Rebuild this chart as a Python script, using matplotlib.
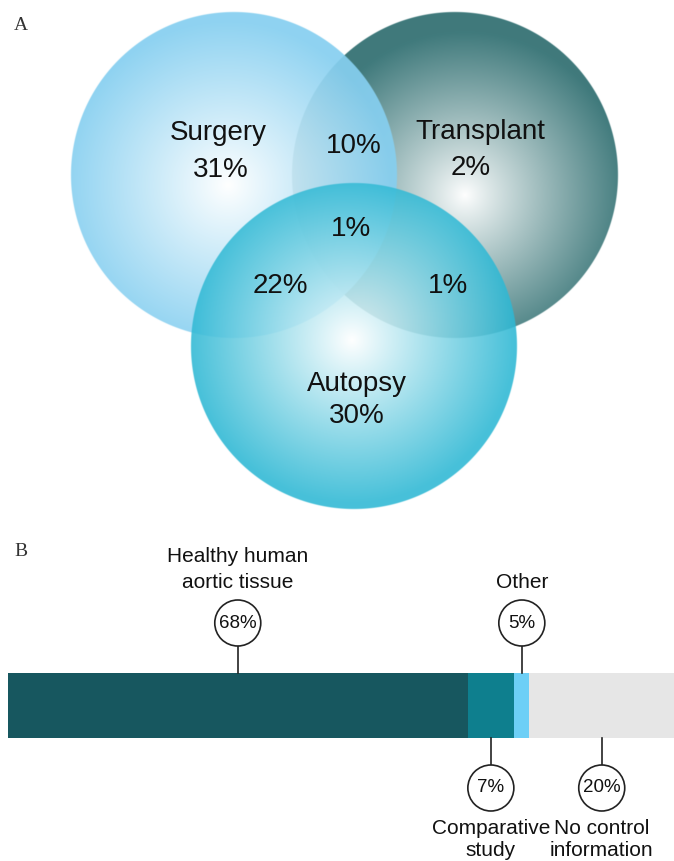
import numpy as np
import matplotlib
matplotlib.use("Agg")
import matplotlib.pyplot as plt
from matplotlib.patches import Circle

plt.rcParams['font.family'] = ['Liberation Sans', 'DejaVu Sans']

# ---------------- data ----------------
venn_sets = ["Surgery", "Transplant", "Autopsy"]
venn_only_pct = [31, 2, 30]                  # exclusive parts
venn_pair_labels = ["Surgery&Transplant", "Surgery&Autopsy", "Transplant&Autopsy"]
venn_pair_pct = [10, 22, 1]
venn_all_pct = 1

control_labels = ["Healthy human\naortic tissue", "Comparative\nstudy", "Other", "No control\ninformation"]
control_pct = [68, 7, 5, 20]                 # printed values
control_bar_share = [69.0, 7.0, 2.3, 21.7]   # segment widths as drawn in the picture
control_colors = ["#17575f", "#0e7f8e", "#6dcff6", "#e6e6e6"]
control_side = ["above", "below", "above", "below"]

# ---------------- figure ----------------
W, H = 674, 861
fig = plt.figure(figsize=(W / 100, H / 100), dpi=100)
ax = fig.add_axes([0, 0, 1, 1])
ax.set_xlim(0, W)
ax.set_ylim(H, 0)
ax.axis("off")

# ---- Panel A: Venn with radial gradients ----
circ_centers = {"Surgery": (234, 175), "Transplant": (455, 175), "Autopsy": (354, 346)}
circ_radius = 163
highlights = {"Surgery": (228, 185), "Transplant": (465, 195), "Autopsy": (352, 340)}
edge_cols = {"Surgery": (134, 207, 240), "Transplant": (64, 122, 124), "Autopsy": (46, 184, 212)}
gammas = {"Surgery": 0.95, "Transplant": 0.9, "Autopsy": 0.95}
alphas = {"Transplant": 1.0, "Surgery": 0.92, "Autopsy": 0.88}
order = ["Transplant", "Surgery", "Autopsy"]

S = 2  # supersampling
ph = 520
xs = (np.arange(W * S) + 0.5) / S
ys = (np.arange(ph * S) + 0.5) / S
X, Y = np.meshgrid(xs, ys)
comp = np.ones((ph * S, W * S, 3))
for name in order:
    cx, cy = circ_centers[name]
    hx, hy = highlights[name]
    d = np.hypot(X - cx, Y - cy)
    mask = np.clip(circ_radius - d + 0.5, 0, 1)
    dh = np.hypot(X - hx, Y - hy)
    t = np.clip(dh / circ_radius, 0, 1) ** gammas[name]
    edge = np.array(edge_cols[name]) / 255.0
    col = (1 - t)[..., None] * np.ones(3) + t[..., None] * edge
    a = (mask * alphas[name])[..., None]
    comp = comp * (1 - a) + col * a
ax.imshow(comp, extent=(0, W, ph, 0), origin="upper", interpolation="bilinear", zorder=1)

vfs = 20
tc = "#111111"
def vt(x, y, s):
    ax.text(x, y, s, ha="center", va="center", fontsize=vfs, color=tc, zorder=3)

vt(218, 133, venn_sets[0]); vt(221, 170, f"{venn_only_pct[0]}%")
vt(480, 132, venn_sets[1]); vt(471, 168, f"{venn_only_pct[1]}%")
vt(357, 384, venn_sets[2]); vt(357, 416, f"{venn_only_pct[2]}%")
vt(354, 146, f"{venn_pair_pct[0]}%")
vt(280, 286, f"{venn_pair_pct[1]}%")
vt(448, 286, f"{venn_pair_pct[2]}%")
vt(351, 229, f"{venn_all_pct}%")

ax.text(14, 26, "A", ha="left", va="center", fontsize=14, color="#333333",
        family=["Liberation Serif", "DejaVu Serif"])
ax.text(14, 552, "B", ha="left", va="center", fontsize=14, color="#333333",
        family=["Liberation Serif", "DejaVu Serif"])

# ---- Panel B: stacked bar with callouts ----
bar_x0, bar_x1 = 8, 674
bar_top, bar_bot = 673, 738
scale = (bar_x1 - bar_x0) / 100.0
lefts = bar_x0 + scale * np.concatenate([[0], np.cumsum(control_bar_share)[:-1]])
widths = scale * np.array(control_bar_share)
ax.barh([(bar_top + bar_bot) / 2] * 4, widths, left=lefts, height=bar_bot - bar_top,
        color=control_colors, edgecolor="none", zorder=2)

cr = 23
lfs = 15
for lab, pct, l, w, side in zip(control_labels, control_pct, lefts, widths, control_side):
    mx = l + w / 2
    lines = lab.split("\n")
    if side == "above":
        cy = 623
        ax.plot([mx, mx], [cy + cr, bar_top], color="#222222", lw=1.2, zorder=3)
        ys_txt = [583] if len(lines) == 1 else [557, 582]
    else:
        cy = 788
        ax.plot([mx, mx], [bar_bot, cy - cr], color="#222222", lw=1.2, zorder=3)
        ys_txt = [828, 851]
    ax.add_patch(Circle((mx, cy), cr, facecolor="white", edgecolor="#222222", lw=1.2, zorder=4))
    ax.text(mx, cy, f"{pct}%", ha="center", va="center", fontsize=13.5, color=tc, zorder=5)
    for s, yy in zip(lines, ys_txt):
        ax.text(mx, yy, s, ha="center", va="center", fontsize=lfs, color=tc,
                zorder=5, clip_on=False)

fig.savefig("out.png", dpi=100)
